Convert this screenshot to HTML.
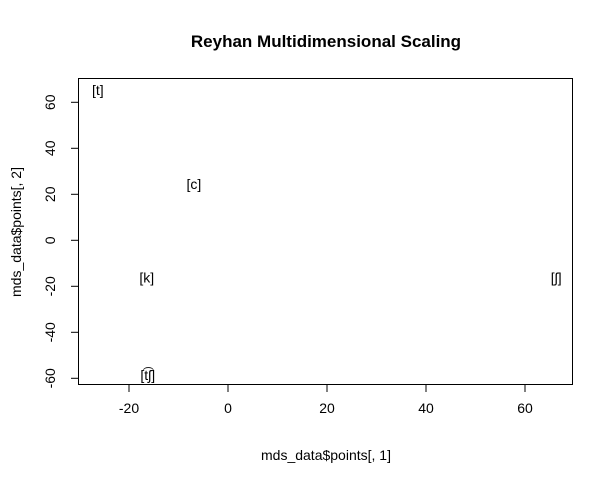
<!DOCTYPE html>
<html><head><meta charset="utf-8"><style>
body{margin:0;background:#fff;}
svg text{font-family:"Liberation Sans",Arial,sans-serif;}
</style></head><body>
<svg width="614" height="484">
<rect width="614" height="484" fill="#fff"/>
<text x="326" y="47" text-anchor="middle" font-weight="bold" font-size="17">Reyhan Multidimensional Scaling</text>
<rect x="78.5" y="78.5" width="494" height="306" fill="none" stroke="#000"/>
<g id="xaxis"></g>
<g id="yaxis"></g>
<g id="pts"></g>
<text x="326" y="460" text-anchor="middle" font-size="14">mds_data$points[, 1]</text>
<text transform="translate(21,232) rotate(-90)" text-anchor="middle" font-size="14">mds_data$points[, 2]</text>
</svg>
<script>
const labels=["[t]","[c]","[k]","[ʃ]","[t͡ʃ]"];
const xs=[-26.3,-6.9,-16.4,66.3,-16.2];
const ys=[65.3,24.5,-16.1,-16.1,-58.6];
const xticks=[-20,0,20,40,60];
const yticks=[-60,-40,-20,0,20,40,60];
const X=v=>228+v*4.95, Y=v=>240.3-v*2.3;
const ns="http://www.w3.org/2000/svg";
const xa=document.getElementById('xaxis'),ya=document.getElementById('yaxis'),pg=document.getElementById('pts');
function mk(t,a,p,txt){const e=document.createElementNS(ns,t);for(const k in a)e.setAttribute(k,a[k]);if(txt!==undefined)e.textContent=txt;p.appendChild(e);return e;}
xticks.forEach(v=>{
 const l=mk('line',{x1:X(v),x2:X(v),y1:384.5,y2:392,stroke:'#000'},xa);
 
 
 const t=mk('text',{x:X(v),y:413,'text-anchor':'middle','font-size':14},xa,String(v));
 
 
});
yticks.forEach(v=>{
 const l=mk('line',{x1:71,x2:78.5,y1:Y(v),y2:Y(v),stroke:'#000'},ya);
 
 
 const t=mk('text',{transform:`translate(55,${Y(v)}) rotate(-90)`,'text-anchor':'middle','font-size':14},ya,String(v));
 
 
});
labels.forEach((s,i)=>{
 const t=mk('text',{x:X(xs[i]),y:Y(ys[i])+5,'text-anchor':'middle','font-size':14},pg,s);
 
 
});
</script>
</body></html>
